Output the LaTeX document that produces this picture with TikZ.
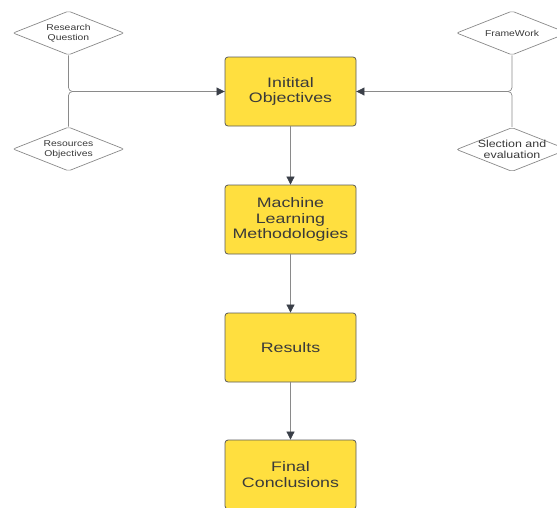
\documentclass[tikz,border=0pt]{standalone}
\usepackage{fontspec}
\setmainfont{Liberation Sans}
\newfontfamily\widesans[FakeStretch=1.3]{Liberation Sans}
\newfontfamily\diasans[FakeStretch=1.22]{Liberation Sans}
\usetikzlibrary{shapes.geometric,arrows.meta}
\definecolor{boxyellow}{HTML}{FFDF3F}
\definecolor{boxline}{HTML}{5A5A5A}
\definecolor{txt}{HTML}{3A3A3A}
\definecolor{lineg}{HTML}{8A8A8A}
\definecolor{arrowg}{HTML}{3A3F48}
\begin{document}
\begin{tikzpicture}[x=1pt,y=-1pt,
  stepbox/.style={rectangle,rounded corners=3pt,draw=boxline,line width=0.8pt,fill=boxyellow,
    minimum width=131pt,minimum height=69pt,inner sep=0pt,align=center,text=txt,
    font=\widesans\fontsize{13.7}{15.3}\selectfont},
  dia/.style={diamond,draw=lineg,line width=0.7pt,fill=white,rounded corners=2pt,
    minimum width=111pt,minimum height=44pt,inner sep=0pt,aspect=2.5,align=center,text=txt,
    font=\diasans\fontsize{8.5}{10}\selectfont},
  conn/.style={draw=lineg,line width=0.7pt,rounded corners=4pt},
  tip/.style={-{Triangle[length=8pt,width=8pt,color=arrowg]}}]
\useasboundingbox (0,0) rectangle (557,507);

\node[stepbox] (obj) at (290.5,91.5) {Initital\\Objectives};
\node[stepbox] (ml) at (290.5,219.5) {Machine\\Learning\\Methodologies};
\node[stepbox] (res) at (290.5,347.5) {Results};
\node[stepbox] (fin) at (290.5,474.5) {Final\\Conclusions};

\node[dia] (rq) at (68.5,33) {Research\\Question};
\node[dia] (ro) at (68.5,149) {Resources\\Objectives};
\node[dia] (fw) at (512,33) {FrameWork};
\node[dia,font=\diasans\fontsize{10.2}{11.2}\selectfont] (se) at (512,149.5)
  {\makebox[0pt]{Slection and}\\\makebox[0pt]{evaluation}};

\coordinate (jl) at (68.5,91.5);
\coordinate (jr) at (512,91.5);

\draw[conn] (rq.south) -- (jl) -- (obj.west);
\draw[conn] (ro.north) -- (jl) -- (obj.west);
\draw[conn] (fw.south) -- (jr) -- (obj.east);
\draw[conn] (se.north) -- (jr) -- (obj.east);
\draw[conn,tip] ([xshift=-20pt]obj.west) -- (obj.west);
\draw[conn,tip] ([xshift=20pt]obj.east) -- (obj.east);

\draw[conn,tip] (obj.south) -- (ml.north);
\draw[conn,tip] (ml.south) -- (res.north);
\draw[conn,tip] (res.south) -- (fin.north);
\end{tikzpicture}
\end{document}
